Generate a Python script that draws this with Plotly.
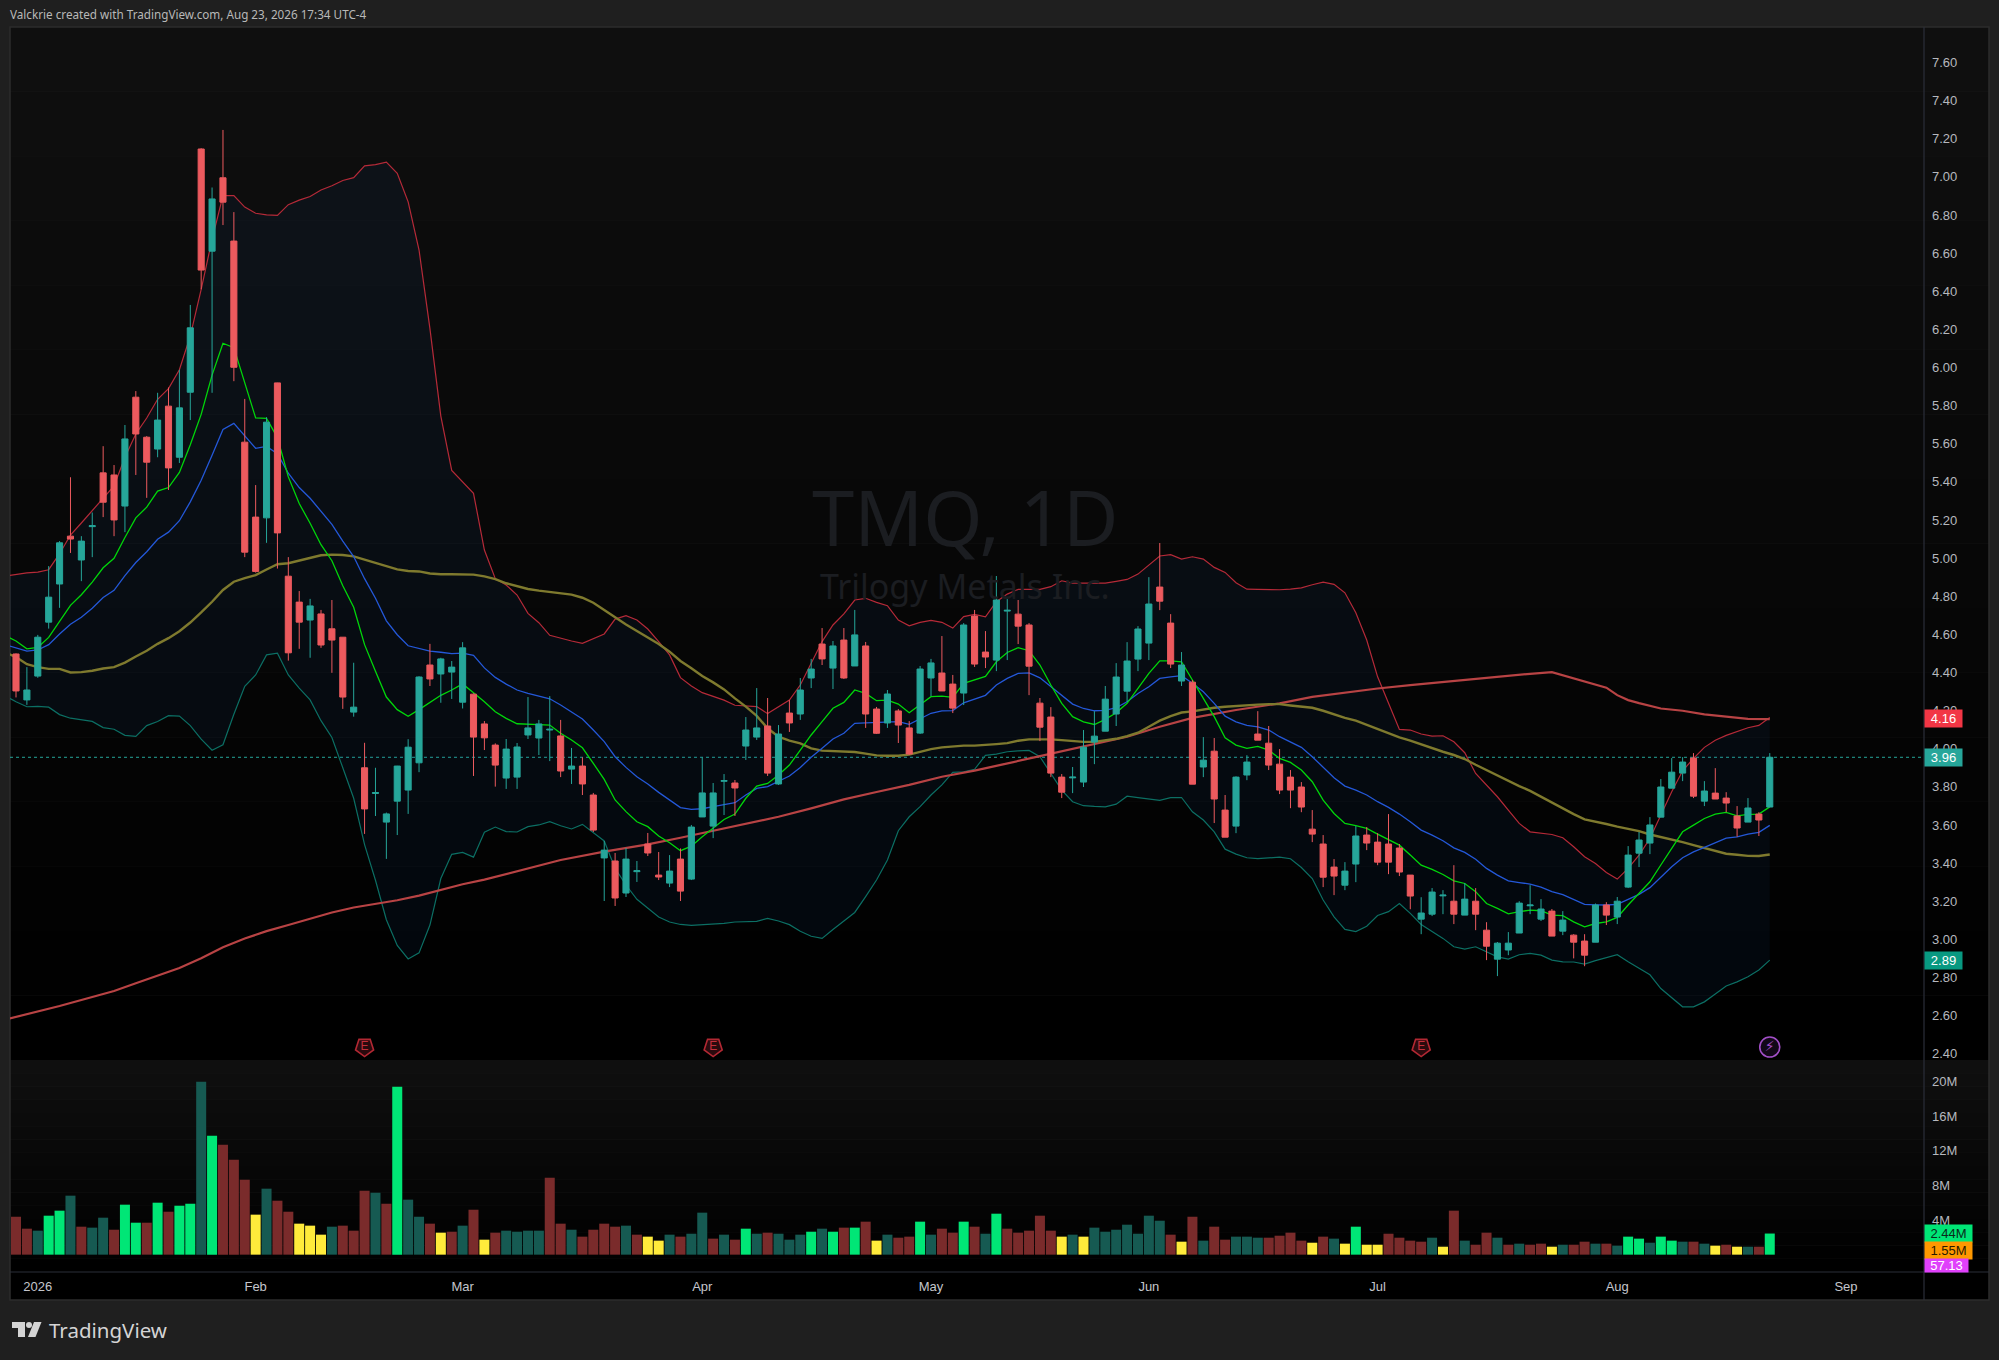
import plotly.graph_objects as go

W = 1999
H = 1360

# daily candles, index 0 = first bar in view
opens = [
    4.497, 4.256, 4.381, 4.664, 4.864, 5.115, 4.99, 5.165, 5.447, 5.436,
    5.273, 5.844, 5.634, 5.572, 5.797, 5.529, 5.87, 7.146, 6.61, 6.995,
    6.663, 5.608, 5.215, 5.211, 5.919, 4.905, 4.769, 4.675, 4.707, 4.629,
    4.585, 4.192, 3.90, 3.765, 3.615, 3.725, 3.783, 3.926, 4.439, 4.392,
    4.402, 4.244, 4.286, 4.13, 4.019, 3.846, 3.851, 4.072, 4.056, 4.098,
    4.067, 3.893, 3.909, 3.757, 3.427, 3.411, 3.243, 3.355, 3.5, 3.337,
    3.295, 3.421, 3.316, 3.642, 3.594, 3.829, 3.82, 4.014, 4.061, 4.119,
    3.815, 4.187, 4.182, 4.371, 4.549, 4.423, 4.57, 4.434, 4.539, 4.208,
    4.135, 4.198, 4.109, 4.082, 4.371, 4.397, 4.339, 4.292, 4.696, 4.507,
    4.465, 4.722, 4.706, 4.649, 4.239, 4.166, 3.851, 3.847, 3.825, 4.035,
    4.092, 4.182, 4.302, 4.47, 4.554, 4.848, 4.659, 4.355, 4.349, 3.904,
    3.987, 3.678, 3.594, 3.862, 4.077, 4.029, 3.919, 3.851, 3.799, 3.578,
    3.5, 3.379, 3.284, 3.395, 3.547, 3.51, 3.5, 3.479, 3.337, 3.106,
    3.132, 3.228, 3.2, 3.127, 3.2, 3.048, 2.896, 2.944, 3.033, 3.176,
    3.106, 3.148, 3.043, 3.022, 2.991, 2.985, 3.18, 3.117, 3.274, 3.452,
    3.505, 3.641, 3.793, 3.872, 3.951, 3.725, 3.767, 3.741, 3.647, 3.615,
    3.657, 3.694,
]
highs = [
    4.50, 4.428, 4.597, 4.958, 5.089, 5.424, 5.115, 5.239, 5.587, 5.488,
    5.698, 5.876, 5.64, 5.867, 5.895, 5.988, 6.328, 7.15, 6.944, 7.246,
    6.815, 5.835, 5.383, 5.739, 5.92, 5.005, 4.827, 4.786, 4.728, 4.78,
    4.585, 4.451, 4.031, 3.90, 3.665, 3.91, 4.05, 4.38, 4.55, 4.477,
    4.46, 4.559, 4.29, 4.145, 4.028, 4.051, 4.03, 4.271, 4.151, 4.276,
    4.151, 4.004, 3.955, 3.768, 3.516, 3.453, 3.479, 3.411, 3.558, 3.458,
    3.442, 3.477, 3.6, 3.955, 3.82, 3.867, 3.836, 4.166, 4.318, 4.266,
    4.124, 4.255, 4.371, 4.471, 4.633, 4.565, 4.633, 4.728, 4.56, 4.219,
    4.308, 4.208, 4.145, 4.434, 4.471, 4.591, 4.387, 4.659, 4.728, 4.617,
    4.906, 4.785, 4.78, 4.659, 4.266, 4.218, 3.867, 3.904, 4.098, 4.197,
    4.329, 4.449, 4.559, 4.643, 4.9, 5.079, 4.706, 4.507, 4.36, 4.061,
    4.056, 3.757, 3.855, 3.966, 4.197, 4.119, 3.998, 3.888, 3.825, 3.678,
    3.547, 3.421, 3.405, 3.594, 3.589, 3.557, 3.657, 3.5, 3.337, 3.221,
    3.269, 3.258, 3.389, 3.295, 3.269, 3.09, 2.986, 3.038, 3.2, 3.284,
    3.211, 3.159, 3.148, 3.027, 3.027, 3.188, 3.195, 3.222, 3.489, 3.563,
    3.641, 3.841, 3.951, 3.956, 3.977, 3.83, 3.898, 3.772, 3.699, 3.741,
    3.667, 3.977,
]
lows = [
    4.269, 4.23, 4.372, 4.63, 4.739, 5.027, 4.879, 5.005, 5.215, 5.115,
    5.136, 5.436, 5.316, 5.529, 5.357, 5.499, 5.724, 6.41, 5.867, 6.747,
    5.928, 5.005, 4.924, 5.08, 4.945, 4.462, 4.524, 4.477, 4.529, 4.398,
    4.209, 4.168, 3.553, 3.647, 3.422, 3.547, 3.658, 3.877, 4.329, 4.241,
    4.261, 4.211, 3.857, 3.993, 3.801, 3.789, 3.789, 4.051, 3.967, 3.935,
    3.851, 3.815, 3.757, 3.563, 3.201, 3.175, 3.222, 3.301, 3.437, 3.311,
    3.274, 3.201, 3.311, 3.642, 3.531, 3.652, 3.647, 3.941, 4.046, 3.857,
    3.81, 4.088, 4.151, 4.318, 4.439, 4.313, 4.366, 4.434, 4.109, 4.077,
    4.109, 4.03, 3.967, 4.077, 4.276, 4.303, 4.187, 4.229, 4.429, 4.423,
    4.407, 4.465, 4.549, 4.281, 4.04, 3.851, 3.741, 3.767, 3.799, 3.919,
    4.092, 4.119, 4.245, 4.407, 4.465, 4.727, 4.423, 4.329, 3.814, 3.851,
    3.61, 3.536, 3.557, 3.835, 4.045, 3.888, 3.762, 3.688, 3.667, 3.51,
    3.274, 3.232, 3.258, 3.3, 3.468, 3.389, 3.342, 3.332, 3.158, 3.027,
    3.122, 3.132, 3.08, 3.127, 3.048, 2.891, 2.807, 2.917, 3.033, 3.132,
    3.096, 3.017, 3.022, 2.9, 2.859, 2.985, 3.075, 3.08, 3.269, 3.379,
    3.447, 3.641, 3.793, 3.83, 3.741, 3.699, 3.736, 3.667, 3.538, 3.615,
    3.542, 3.694,
]
closes = [
    4.303, 4.308, 4.585, 4.795, 5.08, 5.10, 5.089, 5.17, 5.293, 5.20,
    5.625, 5.651, 5.503, 5.724, 5.473, 5.788, 6.208, 6.511, 6.884, 6.867,
    6.001, 5.031, 4.93, 5.713, 5.132, 4.503, 4.664, 4.749, 4.544, 4.57,
    4.271, 4.218, 3.684, 3.77, 3.658, 3.909, 4.008, 4.376, 4.366, 4.471,
    4.428, 4.529, 4.061, 4.057, 3.914, 3.998, 4.009, 4.109, 4.13, 4.102,
    3.883, 3.909, 3.815, 3.573, 3.468, 3.217, 3.421, 3.36, 3.453, 3.327,
    3.358, 3.253, 3.589, 3.768, 3.768, 3.833, 3.794, 4.098, 4.109, 3.872,
    4.077, 4.135, 4.308, 4.418, 4.471, 4.539, 4.371, 4.597, 4.182, 4.081,
    4.287, 4.124, 3.972, 4.418, 4.45, 4.303, 4.213, 4.649, 4.444, 4.481,
    4.78, 4.726, 4.643, 4.433, 4.113, 3.872, 3.772, 3.851, 4.008, 4.066,
    4.26, 4.376, 4.46, 4.628, 4.759, 4.774, 4.444, 4.439, 3.814, 3.94,
    3.736, 3.536, 3.851, 3.93, 4.045, 3.914, 3.783, 3.783, 3.694, 3.552,
    3.326, 3.332, 3.358, 3.542, 3.505, 3.405, 3.405, 3.353, 3.227, 3.138,
    3.248, 3.232, 3.132, 3.211, 3.132, 2.964, 2.98, 2.98, 3.19, 3.18,
    3.159, 3.017, 3.101, 2.985, 2.917, 3.18, 3.127, 3.2, 3.442, 3.521,
    3.6, 3.799, 3.877, 3.93, 3.751, 3.778, 3.736, 3.715, 3.584, 3.689,
    3.626, 3.955,
]

# indicator lines start one bar before the first candle
bb_upper = [
    4.905, 4.915, 4.922, 4.926, 4.939, 5.023, 5.121, 5.184, 5.248, 5.314, 5.379,
    5.529, 5.651, 5.735, 5.833, 5.889, 5.988, 6.166, 6.41, 6.672, 6.901,
    6.901, 6.841, 6.809, 6.80, 6.798, 6.854, 6.878, 6.897, 6.931, 6.953,
    6.981, 6.996, 7.058, 7.064, 7.077, 7.019, 6.869, 6.616, 6.204, 5.745,
    5.46, 5.402, 5.34, 5.042, 4.892, 4.859, 4.806, 4.71, 4.661, 4.595,
    4.579, 4.565, 4.553, 4.576, 4.602, 4.68, 4.698, 4.675, 4.628, 4.562,
    4.492, 4.373, 4.329, 4.294, 4.276, 4.255, 4.228, 4.226, 4.221, 4.184,
    4.221, 4.255, 4.334, 4.448, 4.562, 4.649, 4.707, 4.78, 4.789, 4.768,
    4.75, 4.675, 4.645, 4.663, 4.673, 4.663, 4.633, 4.693, 4.705, 4.692,
    4.771, 4.811, 4.836, 4.836, 4.836, 4.85, 4.881, 4.869, 4.869, 4.869,
    4.869, 4.878, 4.888, 4.916, 4.962, 5.011, 5.018, 4.995, 5.007, 4.995,
    4.951, 4.925, 4.871, 4.837, 4.836, 4.834, 4.834, 4.837, 4.844, 4.86,
    4.874, 4.862, 4.818, 4.713, 4.57, 4.377, 4.238, 4.101, 4.098, 4.077,
    4.066, 4.068, 4.036, 3.979, 3.87, 3.809, 3.748, 3.678, 3.608, 3.564,
    3.557, 3.55, 3.533, 3.486, 3.433, 3.398, 3.351, 3.316, 3.372, 3.442,
    3.529, 3.652, 3.774, 3.884, 3.949, 4.007, 4.044, 4.07, 4.089, 4.11,
    4.122, 4.164,
]
bb_lower = [
    4.278, 4.246, 4.22, 4.222, 4.218, 4.179, 4.16, 4.151, 4.143, 4.111, 4.102,
    4.07, 4.065, 4.121, 4.143, 4.173, 4.171, 4.121, 4.05, 3.992, 4.021,
    4.181, 4.327, 4.387, 4.492, 4.501, 4.387, 4.318, 4.256, 4.147, 4.059,
    3.90, 3.74, 3.497, 3.31, 3.103, 2.968, 2.897, 2.929, 3.075, 3.319,
    3.446, 3.456, 3.431, 3.562, 3.589, 3.565, 3.563, 3.591, 3.60, 3.617,
    3.596, 3.579, 3.603, 3.559, 3.516, 3.372, 3.285, 3.21, 3.162, 3.117,
    3.091, 3.078, 3.073, 3.077, 3.078, 3.084, 3.091, 3.092, 3.094, 3.11,
    3.096, 3.077, 3.042, 3.016, 3.005, 3.052, 3.096, 3.141, 3.224, 3.311,
    3.416, 3.57, 3.643, 3.696, 3.757, 3.81, 3.876, 3.879, 3.892, 3.965,
    3.972, 3.984, 3.989, 3.991, 3.958, 3.87, 3.783, 3.722, 3.701, 3.697,
    3.695, 3.709, 3.751, 3.743, 3.734, 3.729, 3.743, 3.744, 3.669, 3.626,
    3.564, 3.473, 3.447, 3.428, 3.423, 3.428, 3.431, 3.423, 3.377, 3.319,
    3.206, 3.118, 3.052, 3.041, 3.069, 3.125, 3.145, 3.188, 3.136, 3.078,
    3.04, 3.005, 2.961, 2.949, 2.961, 2.935, 2.908, 2.896, 2.919, 2.926,
    2.917, 2.891, 2.882, 2.881, 2.87, 2.888, 2.905, 2.919, 2.882, 2.849,
    2.814, 2.742, 2.693, 2.646, 2.646, 2.672, 2.713, 2.755, 2.777, 2.804,
    2.839, 2.891,
]
ema_green = [
    4.593, 4.565, 4.524, 4.531, 4.584, 4.668, 4.752, 4.808, 4.874, 4.949, 4.999,
    5.108, 5.211, 5.267, 5.351, 5.37, 5.449, 5.595, 5.754, 5.96, 6.127,
    6.104, 5.923, 5.735, 5.733, 5.632, 5.426, 5.286, 5.183, 5.07, 4.986,
    4.855, 4.742, 4.546, 4.406, 4.271, 4.205, 4.17, 4.205, 4.241, 4.28,
    4.308, 4.34, 4.293, 4.246, 4.194, 4.159, 4.131, 4.13, 4.126, 4.124,
    4.081, 4.046, 4.005, 3.923, 3.839, 3.731, 3.67, 3.617, 3.591, 3.542,
    3.507, 3.465, 3.489, 3.538, 3.582, 3.629, 3.657, 3.74, 3.804, 3.818,
    3.862, 3.914, 3.993, 4.072, 4.142, 4.212, 4.243, 4.308, 4.29, 4.252,
    4.255, 4.234, 4.189, 4.229, 4.273, 4.276, 4.269, 4.343, 4.36, 4.379,
    4.456, 4.505, 4.53, 4.514, 4.439, 4.334, 4.238, 4.168, 4.141, 4.127,
    4.154, 4.189, 4.238, 4.316, 4.395, 4.461, 4.461, 4.456, 4.36, 4.264,
    4.168, 4.057, 4.019, 4.002, 4.012, 3.993, 3.949, 3.928, 3.888, 3.827,
    3.73, 3.66, 3.608, 3.596, 3.582, 3.552, 3.524, 3.494, 3.442, 3.389,
    3.367, 3.34, 3.307, 3.293, 3.25, 3.188, 3.162, 3.134, 3.145, 3.153,
    3.15, 3.127, 3.124, 3.092, 3.066, 3.083, 3.092, 3.115, 3.18, 3.241,
    3.302, 3.39, 3.477, 3.564, 3.599, 3.634, 3.657, 3.666, 3.648, 3.655,
    3.657, 3.695,
]
ema_blue = [
    4.546, 4.529, 4.512, 4.518, 4.546, 4.602, 4.653, 4.69, 4.737, 4.793, 4.831,
    4.908, 4.977, 5.033, 5.099, 5.136, 5.196, 5.295, 5.408, 5.539, 5.675,
    5.707, 5.642, 5.576, 5.586, 5.548, 5.445, 5.37, 5.314, 5.248, 5.177,
    5.089, 5.008, 4.892, 4.789, 4.671, 4.598, 4.54, 4.527, 4.512, 4.506,
    4.499, 4.501, 4.49, 4.424, 4.374, 4.339, 4.308, 4.29, 4.276, 4.262,
    4.229, 4.194, 4.156, 4.098, 4.037, 3.958, 3.902, 3.853, 3.815, 3.771,
    3.731, 3.691, 3.682, 3.685, 3.696, 3.708, 3.717, 3.757, 3.792, 3.801,
    3.827, 3.857, 3.902, 3.955, 4.002, 4.051, 4.081, 4.133, 4.135, 4.137,
    4.142, 4.142, 4.128, 4.156, 4.186, 4.198, 4.2, 4.241, 4.259, 4.28,
    4.334, 4.369, 4.395, 4.398, 4.372, 4.325, 4.278, 4.234, 4.211, 4.199,
    4.201, 4.215, 4.246, 4.29, 4.325, 4.369, 4.377, 4.383, 4.343, 4.299,
    4.238, 4.171, 4.141, 4.122, 4.115, 4.098, 4.063, 4.036, 4.007, 3.958,
    3.902, 3.848, 3.804, 3.783, 3.757, 3.722, 3.692, 3.657, 3.617, 3.573,
    3.547, 3.517, 3.48, 3.456, 3.42, 3.372, 3.337, 3.307, 3.298, 3.29,
    3.274, 3.25, 3.234, 3.209, 3.183, 3.181, 3.18, 3.183, 3.209, 3.236,
    3.271, 3.328, 3.381, 3.428, 3.459, 3.482, 3.508, 3.531, 3.538, 3.552,
    3.561, 3.598,
]
sma_olive = [
    4.505, 4.481, 4.443, 4.428, 4.419, 4.419, 4.40, 4.402, 4.409, 4.421, 4.428,
    4.452, 4.484, 4.514, 4.55, 4.58, 4.616, 4.662, 4.715, 4.771, 4.833,
    4.876, 4.895, 4.911, 4.94, 4.968, 4.973, 4.986, 5.003, 5.015, 5.018,
    5.016, 5.009, 4.992, 4.973, 4.955, 4.941, 4.932, 4.93, 4.919, 4.915,
    4.915, 4.915, 4.913, 4.904, 4.89, 4.868, 4.854, 4.838, 4.829, 4.822,
    4.815, 4.808, 4.792, 4.766, 4.728, 4.689, 4.652, 4.617, 4.582, 4.549,
    4.509, 4.46, 4.422, 4.381, 4.348, 4.311, 4.264, 4.221, 4.172, 4.107,
    4.063, 4.042, 4.028, 4.002, 3.99, 3.988, 3.984, 3.983, 3.974, 3.965,
    3.963, 3.963, 3.969, 3.984, 3.998, 4.007, 4.012, 4.016, 4.016, 4.019,
    4.024, 4.029, 4.042, 4.049, 4.05, 4.049, 4.045, 4.04, 4.036, 4.036,
    4.043, 4.052, 4.066, 4.084, 4.115, 4.147, 4.171, 4.19, 4.196, 4.206,
    4.215, 4.22, 4.225, 4.227, 4.231, 4.234, 4.234, 4.227, 4.22, 4.215,
    4.199, 4.18, 4.162, 4.147, 4.124, 4.103, 4.082, 4.059, 4.042, 4.022,
    4.002, 3.984, 3.967, 3.946, 3.916, 3.888, 3.862, 3.83, 3.804, 3.779,
    3.748, 3.716, 3.687, 3.657, 3.629, 3.615, 3.605, 3.591, 3.58, 3.568,
    3.55, 3.538, 3.526, 3.51, 3.494, 3.479, 3.463, 3.449, 3.444, 3.438,
    3.437, 3.445,
]
line_bars = list(range(-1, 162))

# the long average only bends slowly, so it is read every few bars
sma_long_bars = [
    -1, 3, 4, 6, 8, 9, 11, 13, 15, 17, 19, 21, 23, 25, 27, 29, 31, 33, 35, 37, 39, 41, 43,
    47, 50, 54, 58, 61, 64, 67, 70, 73, 76, 79, 82, 85, 88, 94, 98, 102, 105, 108, 112,
    116, 119, 122, 125, 128, 131, 134, 137, 139, 141, 142, 144, 146, 147, 148, 149, 151,
    153, 155, 157, 159, 161,
]
sma_long = [
    2.579, 2.633, 2.65, 2.682, 2.714, 2.729, 2.77, 2.809, 2.85, 2.901, 2.959, 3.004, 3.043,
    3.075, 3.109, 3.141, 3.167, 3.186, 3.205, 3.229, 3.257, 3.289, 3.313,
    3.372, 3.416, 3.46, 3.498, 3.533, 3.57, 3.608, 3.643, 3.687, 3.734, 3.773, 3.81, 3.853,
    3.885, 3.961, 4.014, 4.063, 4.115, 4.162, 4.203,
    4.238, 4.272, 4.295, 4.316, 4.334, 4.351, 4.367, 4.383, 4.393, 4.402, 4.386, 4.35, 4.32,
    4.281, 4.255, 4.239, 4.211, 4.199, 4.18, 4.168, 4.157, 4.155,
]

# volume in millions, and the colour class of each bar
volumes = [
    4.38, 3.0, 2.77, 4.5, 5.08, 6.81, 3.23, 3.12, 4.27, 2.88,
    5.77, 3.69, 3.69, 6.0, 4.96, 5.65, 5.88, 19.96, 13.73, 12.69,
    10.96, 8.65, 4.62, 7.62, 6.23, 4.96, 3.58, 3.35, 2.31, 3.23,
    3.35, 2.77, 7.38, 7.15, 5.88, 19.38, 6.35, 4.38, 3.58, 2.54,
    2.65, 3.35, 5.19, 1.73, 2.54, 2.77, 2.65, 2.77, 2.77, 8.88,
    3.58, 2.88, 2.08, 2.88, 3.58, 3.23, 3.35, 2.31, 2.08, 1.62,
    2.31, 2.08, 2.42, 4.85, 1.85, 2.31, 1.73, 3.0, 2.42, 2.54,
    2.42, 1.73, 2.31, 2.65, 3.0, 2.65, 3.12, 3.12, 3.81, 1.62,
    2.31, 1.96, 2.08, 3.81, 2.31, 3.0, 2.54, 3.81, 3.23, 2.42,
    4.73, 3.0, 2.54, 2.77, 4.5, 2.77, 2.08, 2.31, 2.08, 3.12,
    2.65, 2.88, 3.46, 2.42, 4.5, 3.92, 2.31, 1.5, 4.38, 1.62,
    3.23, 1.73, 2.08, 2.08, 1.96, 1.96, 2.19, 2.54, 1.62, 1.38,
    2.08, 1.85, 1.27, 3.23, 1.15, 1.15, 2.42, 1.96, 1.62, 1.5,
    1.96, 0.92, 5.08, 1.62, 1.15, 2.54, 1.96, 1.15, 1.27, 1.15,
    1.27, 0.92, 1.15, 1.15, 1.5, 1.27, 1.27, 1.04, 2.08, 1.85,
    1.38, 2.08, 1.62, 1.5, 1.5, 1.27, 1.04, 1.15, 0.92, 0.92,
    0.92, 2.44,
]
volume_kinds = list(
    "RRTGGTRTTR" "GGRGRGGTGR" "RRYTRRYYYT" "RRRTRGTTRY" "RTRYRTTTTR"
    "RTRRRRTRYY" "TRTTRTRGTR" "TTTGTGRGRY" "TRRGTRRGRT" "GRRRRRYTYT"
    "TTTTTTRYRT" "RRTTTRRRRY" "RTYGYYRRRR" "TYRTRRTRTR" "RYTRRTRTGG"
    "TGGTRTYRYT" "RG"
)
volume_colors = {"R": "#7a2b2b", "T": "#165a52", "G": "#00e676", "Y": "#ffeb3b"}

month_bars = [2, 22, 41, 63, 84, 104, 125, 147, 168]
month_labels = ["2026", "Feb", "Mar", "Apr", "May", "Jun", "Jul", "Aug", "Sep"]
price_ticks = [2.4 + 0.2 * i for i in range(27)]
volume_ticks = [4, 8, 12, 16, 20]
volume_tick_labels = ["4M", "8M", "12M", "16M", "20M"]
earnings_bars = [32, 64, 129]
earnings_level = [2.435, 2.435, 2.435]
last_price = closes[-1]


def px(x):
    return x / W


def py(y):
    return 1 - y / H


bars = list(range(len(closes)))

fig = go.Figure()

# bollinger band, with the fill between both edges
fig.add_trace(go.Scatter(x=line_bars, y=bb_upper, mode="lines", line=dict(color="#b52a38", width=1.2)))
fig.add_trace(
    go.Scatter(
        x=line_bars,
        y=bb_lower,
        mode="lines",
        line=dict(color="#0c6f64", width=1.2),
        fill="tonexty",
        fillcolor="rgba(20,90,160,0.08)",
    )
)
fig.add_trace(go.Scatter(x=sma_long_bars, y=sma_long, mode="lines", line=dict(color="#b84344", width=2.2)))
fig.add_trace(go.Scatter(x=line_bars, y=sma_olive, mode="lines", line=dict(color="#7f7a2e", width=2.4)))
fig.add_trace(go.Scatter(x=line_bars, y=ema_blue, mode="lines", line=dict(color="#2458d8", width=1.3)))
fig.add_trace(go.Scatter(x=line_bars, y=ema_green, mode="lines", line=dict(color="#00d60a", width=1.3)))

fig.add_trace(
    go.Candlestick(
        x=bars,
        open=opens,
        high=highs,
        low=lows,
        close=closes,
        whiskerwidth=0,
        increasing=dict(line=dict(color="#26a69a", width=1), fillcolor="#26a69a"),
        decreasing=dict(line=dict(color="#ec5a5e", width=1), fillcolor="#ec5a5e"),
        zorder=1,
    )
)

# earnings flags and the marker at the last bar
fig.add_trace(
    go.Scatter(
        x=earnings_bars,
        y=earnings_level,
        mode="markers+text",
        marker=dict(
            symbol="pentagon",
            angle=180,
            size=19,
            color="#2a0a0e",
            line=dict(color="#b22833", width=1.6),
        ),
        text=["E", "E", "E"],
        textposition="middle center",
        textfont=dict(family="Liberation Sans", size=12, color="#c22f3b"),
        zorder=2,
    )
)
fig.add_trace(
    go.Scatter(
        x=[bars[-1]],
        y=[2.435],
        mode="markers+text",
        marker=dict(symbol="circle", size=20, color="#120818", line=dict(color="#a24fc7", width=1.6)),
        text=["\u26a1"],
        textposition="middle center",
        textfont=dict(family="DejaVu Sans", size=14, color="#a24fc7"),
        zorder=2,
    )
)

fig.add_trace(
    go.Bar(
        x=bars,
        y=volumes,
        xaxis="x2",
        yaxis="y2",
        marker=dict(color=[volume_colors[k] for k in volume_kinds], line=dict(width=0)),
    )
)

shapes = []

# tradingview fades the panes from dark grey at the top to black at the bottom
for top, bottom in [(27, 1060), (1060, 1272)]:
    steps = 16
    for i in range(steps):
        shade = 15 - i
        shapes.append(
            dict(
                type="rect",
                xref="paper",
                yref="paper",
                x0=px(10),
                x1=px(1989),
                y0=py(top + (bottom - top) * i / steps),
                y1=py(top + (bottom - top) * (i + 1) / steps),
                fillcolor=f"rgb({shade},{shade},{shade})",
                line=dict(width=0),
                layer="below",
            )
        )
shapes.append(
    dict(
        type="rect",
        xref="paper",
        yref="paper",
        x0=px(10),
        x1=px(1989),
        y0=py(1272),
        y1=py(1300),
        fillcolor="#000000",
        line=dict(width=0),
        layer="below",
    )
)
# pane frame and separators
shapes.append(
    dict(
        type="rect",
        xref="paper",
        yref="paper",
        x0=px(10),
        x1=px(1989),
        y0=py(27),
        y1=py(1300),
        line=dict(color="#2c2c2c", width=1.5),
        layer="below",
    )
)
shapes.append(
    dict(type="line", xref="paper", yref="paper", x0=px(1924), x1=px(1924), y0=py(27), y1=py(1300),
         line=dict(color="#2a2e39", width=1.2))
)
shapes.append(
    dict(type="line", xref="paper", yref="paper", x0=px(10), x1=px(1989), y0=py(1272), y1=py(1272),
         line=dict(color="#2a2e39", width=1.2))
)
# last price line
shapes.append(
    dict(type="line", xref="paper", yref="y", x0=px(10), x1=px(1924), y0=last_price, y1=last_price,
         line=dict(color="#26a69a", width=1, dash="dot"), layer="below")
)
# logo mark
shapes.append(
    dict(type="path", xref="paper", yref="paper",
         path=(f"M {px(12)} {py(1322)} L {px(25)} {py(1322)} L {px(25)} {py(1337)} L {px(18)} {py(1337)} "
               f"L {px(18)} {py(1328)} L {px(12)} {py(1328)} Z"),
         fillcolor="#d4d4d4", line=dict(width=0))
)
shapes.append(
    dict(type="circle", xref="paper", yref="paper", x0=px(26), x1=px(32), y0=py(1328), y1=py(1322),
         fillcolor="#d4d4d4", line=dict(width=0))
)
shapes.append(
    dict(type="path", xref="paper", yref="paper",
         path=(f"M {px(34)} {py(1322)} L {px(41.5)} {py(1322)} L {px(35.5)} {py(1337)} L {px(28)} {py(1337)} Z"),
         fillcolor="#d4d4d4", line=dict(width=0))
)


def tag(text, y, yref, bg, color="#ffffff", width=37, height=17, x=1924):
    return dict(
        text=text,
        xref="paper",
        yref=yref,
        x=px(x),
        y=y,
        xanchor="left",
        yanchor="middle",
        showarrow=False,
        width=width,
        height=height,
        bgcolor=bg,
        borderpad=0,
        font=dict(family="Liberation Sans", size=13, color=color),
    )


annotations = [
    dict(text="TMQ, 1D", xref="paper", yref="paper", x=px(965), y=py(516), yanchor="middle", showarrow=False,
         font=dict(family="Noto Sans", size=76, color="#1b1d21")),
    dict(text="Trilogy Metals Inc.", xref="paper", yref="paper", x=px(965), y=py(586), yanchor="middle",
         showarrow=False, font=dict(family="Noto Sans", size=34, color="#1b1d21")),
    dict(text="Valckrie created with TradingView.com, Aug 23, 2026 17:34 UTC-4", xref="paper", yref="paper",
         x=px(8), y=py(14.5), xanchor="left", yanchor="middle", showarrow=False,
         font=dict(family="Noto Sans", size=11.7, color="#b8b8b8")),
    dict(text="TradingView", xref="paper", yref="paper", x=px(47), y=py(1330), xanchor="left", yanchor="middle",
         showarrow=False, font=dict(family="Noto Sans", size=20.5, color="#d4d4d4")),
    tag("4.16", 4.16, "y", "#f23645"),
    tag("3.96", last_price, "y", "#26a69a"),
    tag("2.89", 2.89, "y", "#089981"),
    tag("2.44M", py(1233.4), "paper", "#00e676", "#0a2a1a", width=47),
    tag("1.55M", py(1250.3), "paper", "#ff9800", "#2a1a00", width=47),
    tag("57.13", py(1265.5), "paper", "#e040fb", width=43, height=13),
]

fig.update_layout(
    width=W,
    height=H,
    margin=dict(l=0, r=0, t=0, b=0),
    autosize=False,
    paper_bgcolor="#1f1f1f",
    plot_bgcolor="rgba(0,0,0,0)",
    showlegend=False,
    bargap=0.08,
    boxgap=0.2,
    hovermode=False,
    shapes=shapes,
    annotations=annotations,
    xaxis=dict(
        domain=[px(10), px(1924)],
        range=[-0.551, 175.16],
        anchor="y",
        showgrid=False,
        zeroline=False,
        showticklabels=False,
        ticks="",
        rangeslider=dict(visible=False),
    ),
    xaxis2=dict(
        domain=[px(10), px(1924)],
        range=[-0.551, 175.16],
        anchor="y2",
        showgrid=False,
        zeroline=False,
        tickmode="array",
        tickvals=month_bars,
        ticktext=month_labels,
        ticks="",
        ticklabelstandoff=5,
        tickfont=dict(family="Liberation Sans", size=13, color="#c4c6cc"),
    ),
    yaxis=dict(
        domain=[py(1060), py(27)],
        range=[2.367, 7.786],
        anchor="x",
        side="right",
        showgrid=False,
        zeroline=False,
        tickmode="array",
        tickvals=price_ticks,
        tickformat=".2f",
        ticks="",
        ticklabelstandoff=7,
        tickfont=dict(family="Liberation Sans", size=13, color="#b6b8be"),
    ),
    yaxis2=dict(
        domain=[py(1272), py(1060)],
        range=[-2.0, 22.47],
        anchor="x2",
        side="right",
        showgrid=False,
        zeroline=False,
        tickmode="array",
        tickvals=volume_ticks,
        ticktext=volume_tick_labels,
        ticks="",
        ticklabelstandoff=7,
        tickfont=dict(family="Liberation Sans", size=13, color="#b6b8be"),
    ),
)

fig.write_html("out.html", config=dict(displayModeBar=False), post_script="document.body.style.margin='0';")
